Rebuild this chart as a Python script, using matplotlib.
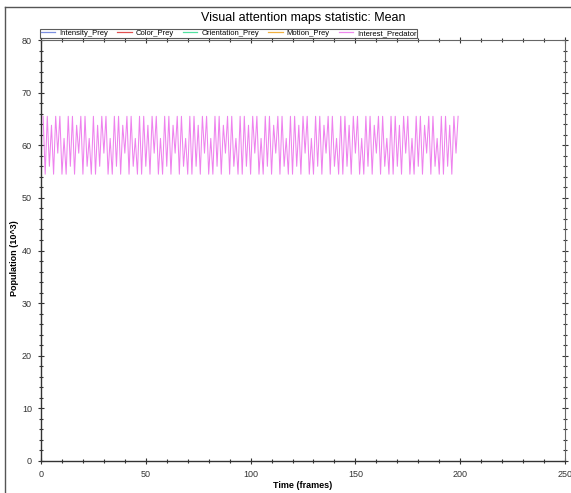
import matplotlib
matplotlib.use("Agg")
import matplotlib.pyplot as plt
from matplotlib.lines import Line2D
from matplotlib.ticker import MultipleLocator

# ---- data ----
title = "Visual attention maps statistic: Mean"
x_label = "Time (frames)"
y_label = "Population (10^3)"
series_names = ["Intensity_Prey", "Color_Prey", "Orientation_Prey", "Motion_Prey", "Interest_Predator"]
series_colors = ["#7b8fe0", "#e05050", "#50e0a0", "#f0b040", "#ee88ee"]

frames = list(range(1, 200))
interest_predator = [
    65.5, 54.5, 65.5, 56.0, 63.8, 54.5, 65.5, 58.5, 65.5, 54.5, 61.3, 54.5,
    65.5, 56.0, 65.5, 54.5, 63.8, 58.5, 65.5, 54.5, 65.5, 56.0, 61.3, 54.5,
    65.5, 54.5, 63.8, 56.0, 65.5, 58.5, 65.5, 54.5, 61.3, 54.5, 65.5, 56.0,
    65.5, 54.5, 63.8, 58.5, 65.5, 54.5, 65.5, 56.0, 61.3, 54.5, 65.5, 54.5,
    65.5, 56.0, 63.8, 54.5, 65.5, 58.5, 65.5, 54.5, 61.3, 54.5, 65.5, 56.0,
    65.5, 54.5, 63.8, 58.5, 65.5, 54.5, 65.5, 56.0, 61.3, 54.5, 65.5, 54.5,
    65.5, 56.0, 63.8, 54.5, 65.5, 58.5, 65.5, 54.5, 61.3, 54.5, 65.5, 56.0,
    65.5, 54.5, 63.8, 58.5, 65.5, 54.5, 65.5, 56.0, 61.3, 54.5, 65.5, 54.5,
    65.5, 56.0, 63.8, 54.5, 65.5, 58.5, 65.5, 54.5, 61.3, 54.5, 65.5, 56.0,
    65.5, 54.5, 63.8, 58.5, 65.5, 54.5, 65.5, 56.0, 61.3, 54.5, 65.5, 54.5,
    65.5, 56.0, 63.8, 54.5, 65.5, 58.5, 65.5, 54.5, 61.3, 54.5, 65.5, 56.0,
    65.5, 54.5, 63.8, 58.5, 65.5, 54.5, 65.5, 56.0, 61.3, 54.5, 65.5, 54.5,
    65.5, 56.0, 63.8, 54.5, 65.5, 58.5, 65.5, 54.5, 61.3, 54.5, 65.5, 56.0,
    65.5, 54.5, 63.8, 58.5, 65.5, 54.5, 65.5, 56.0, 61.3, 54.5, 65.5, 54.5,
    65.5, 56.0, 63.8, 54.5, 65.5, 58.5, 65.5, 54.5, 61.3, 54.5, 65.5, 56.0,
    65.5, 54.5, 63.8, 58.5, 65.5, 54.5, 65.5, 56.0, 61.3, 54.5, 65.5, 54.5,
    65.5, 56.0, 63.8, 54.5, 65.5, 58.5, 65.5,
]
x_ticks = [0, 50, 100, 150, 200, 250]
y_ticks = [0, 10, 20, 30, 40, 50, 60, 70, 80]

# ---- figure ----
plt.rcParams['font.family'] = ['Liberation Sans', 'DejaVu Sans']
W, H = 571, 493
fig = plt.figure(figsize=(W / 100, H / 100), dpi=100)
ax = fig.add_axes([41 / W, 1 - 461 / H, (565 - 41) / W, (461 - 40) / H])

# outer frame
fig.add_artist(Line2D([5 / W, 1], [1 - 7 / H, 1 - 7 / H], color="#555555", lw=1.0))
fig.add_artist(Line2D([5 / W, 5 / W], [0, 1 - 7 / H], color="#555555", lw=1.0))

# the visible series (others are hidden beneath it in the reference)
ax.plot(frames, interest_predator, color="#ee82ee", lw=0.75, zorder=3)
handles = [Line2D([], [], color=c, lw=0.9, label=n)
           for n, c in zip(series_names, series_colors)]

ax.set_xlim(0, 250)
ax.set_ylim(0, 80)
ax.set_xticks(x_ticks)
ax.set_yticks(y_ticks)
ax.xaxis.set_minor_locator(MultipleLocator(10))
ax.yaxis.set_minor_locator(MultipleLocator(2))
ax.tick_params(which='both', direction='inout', top=True, right=True,
               labelsize=6.5, colors='#333333', width=0.8)
ax.tick_params(which='major', length=5, pad=4)
ax.tick_params(which='minor', length=3)
for s in ['left', 'bottom']:
    ax.spines[s].set_color('#333333')
    ax.spines[s].set_linewidth(1.0)
for s in ['top', 'right']:
    ax.spines[s].set_color('#666666')
    ax.spines[s].set_linewidth(0.8)

fig.text(303 / W, 1 - 485 / H, x_label, fontsize=6.5, fontweight='bold',
         ha='center', va='center')
fig.text(15 / W, 1 - 258 / H, y_label, fontsize=6.5, fontweight='bold',
         ha='center', va='center', rotation=90)
fig.text(303 / W, 1 - 18 / H, title, fontsize=9, ha='center', va='center')

leg = ax.legend(handles=handles, loc='lower left', bbox_to_anchor=(-0.002, 1.005),
                ncol=5, fontsize=5.5, frameon=True, fancybox=False,
                edgecolor='#333333', borderpad=0.1, handlelength=1.9,
                handletextpad=0.5, columnspacing=1.2, borderaxespad=0.0)
leg.get_frame().set_linewidth(0.8)

fig.savefig("out.png", dpi=100)
